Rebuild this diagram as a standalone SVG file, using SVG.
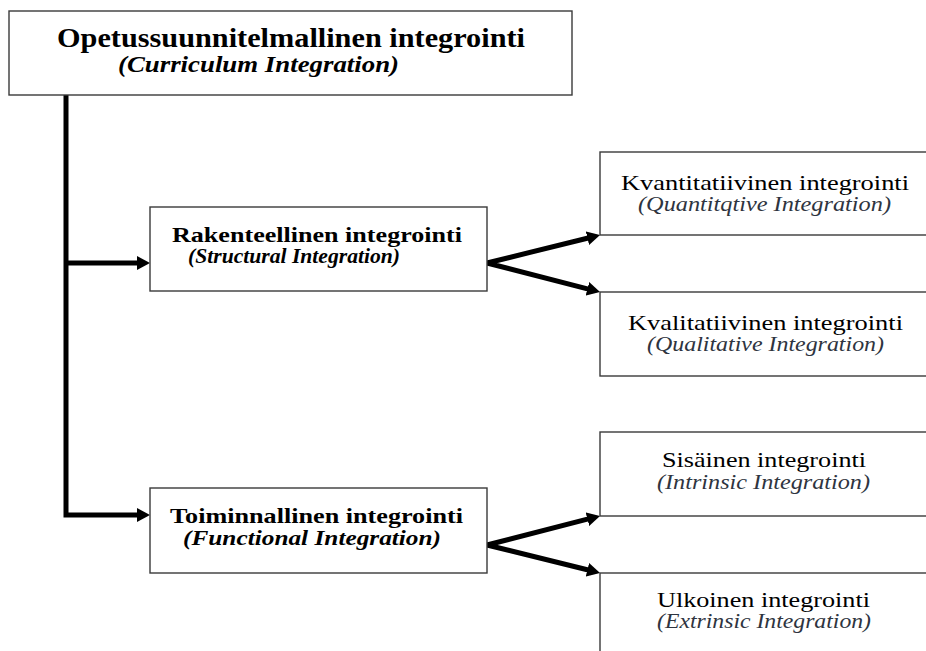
<svg xmlns="http://www.w3.org/2000/svg" width="926" height="651" viewBox="0 0 926 651">
<style>
.box{fill:#fff;stroke:#3a3a3a;stroke-width:1.4}
.t{font-family:"Liberation Serif","DejaVu Serif",serif;text-anchor:start;fill:#000}
.b{font-weight:bold}
.i{font-style:italic}
.s{fill:#2e3440}
.con{fill:none;stroke:#000;stroke-width:5;stroke-linejoin:miter}
</style>
<defs>
<marker id="ah" viewBox="0 0 13 14" markerWidth="13" markerHeight="14" refX="4" refY="7" markerUnits="userSpaceOnUse" orient="auto-start-reverse">
<path d="M0,0 L13,7 L0,14 z" fill="#000"/>
</marker>
</defs>
<rect width="926" height="651" fill="#fff"/>
<g id="connectors">
<path class="con" d="M66,95 V515 H141" marker-end="url(#ah)"/>
<path class="con" d="M66,263 H141" marker-end="url(#ah)"/>
<path class="con" d="M591.3,237.2 L487,263 L591.3,289.8" marker-start="url(#ah)" marker-end="url(#ah)"/>
<path class="con" d="M591.3,518.2 L487,545 L591.3,570.8" marker-start="url(#ah)" marker-end="url(#ah)"/>
</g>
<g id="node-curriculum">
<rect class="box" x="9" y="11" width="563" height="84"/>
<text class="t b" x="57" y="47" font-size="27" textLength="468" lengthAdjust="spacingAndGlyphs">Opetussuunnitelmallinen integrointi</text>
<text class="t b i" x="118" y="72" font-size="24" textLength="281" lengthAdjust="spacingAndGlyphs">(Curriculum Integration)</text>
</g>
<g id="node-structural">
<rect class="box" x="150" y="207" width="337" height="84"/>
<text class="t b" x="172" y="242" font-size="21" textLength="290" lengthAdjust="spacingAndGlyphs">Rakenteellinen integrointi</text>
<text class="t b i" x="188" y="263" font-size="20" textLength="212" lengthAdjust="spacingAndGlyphs">(Structural Integration)</text>
</g>
<g id="node-functional">
<rect class="box" x="150" y="488" width="337" height="85"/>
<text class="t b" x="170" y="523" font-size="22" textLength="293" lengthAdjust="spacingAndGlyphs">Toiminnallinen integrointi</text>
<text class="t b i" x="183" y="545" font-size="21" textLength="258" lengthAdjust="spacingAndGlyphs">(Functional  Integration)</text>
</g>
<g id="node-quantitative">
<rect class="box" x="600" y="152" width="340" height="83"/>
<text class="t" x="621" y="190" font-size="21" textLength="288" lengthAdjust="spacingAndGlyphs">Kvantitatiivinen integrointi</text>
<text class="t i s" x="638" y="211" font-size="20" textLength="253" lengthAdjust="spacingAndGlyphs">(Quantitqtive Integration)</text>
</g>
<g id="node-qualitative">
<rect class="box" x="600" y="292" width="340" height="84"/>
<text class="t" x="628" y="330" font-size="21" textLength="275" lengthAdjust="spacingAndGlyphs">Kvalitatiivinen integrointi</text>
<text class="t i s" x="647" y="351" font-size="20" textLength="237" lengthAdjust="spacingAndGlyphs">(Qualitative Integration)</text>
</g>
<g id="node-intrinsic">
<rect class="box" x="600" y="432" width="340" height="84"/>
<text class="t" x="662" y="467" font-size="22" textLength="204" lengthAdjust="spacingAndGlyphs">Sisäinen integrointi</text>
<text class="t i s" x="657" y="489" font-size="21" textLength="213" lengthAdjust="spacingAndGlyphs">(Intrinsic Integration)</text>
</g>
<g id="node-extrinsic">
<rect class="box" x="600" y="573" width="340" height="100"/>
<text class="t" x="657" y="607" font-size="21" textLength="213" lengthAdjust="spacingAndGlyphs">Ulkoinen integrointi</text>
<text class="t i s" x="657" y="628" font-size="20" textLength="214" lengthAdjust="spacingAndGlyphs">(Extrinsic Integration)</text>
</g>
</svg>
